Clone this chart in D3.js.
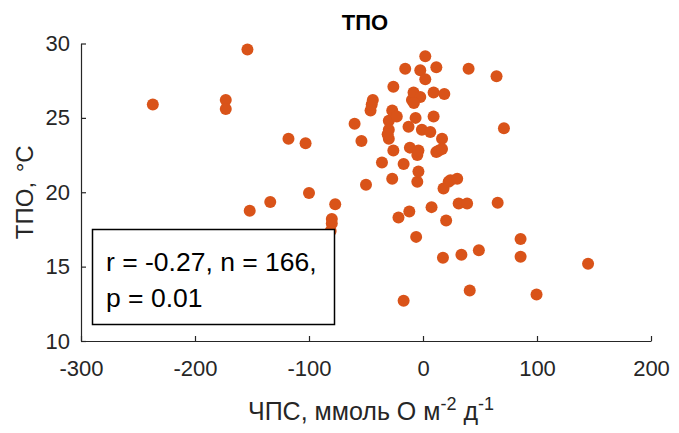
<!DOCTYPE html>
<html>
<head>
<meta charset="utf-8">
<script src="https://cdn.jsdelivr.net/npm/d3@7/dist/d3.min.js"></script>
<style>
  html, body { margin: 0; padding: 0; background: #fff; }
  svg { display: block; }
  text { font-family: "Liberation Sans", Arial, Helvetica, sans-serif; }
</style>
</head>
<body>
<svg id="chart" width="679" height="433"></svg>
<script>
// Net community production (x) vs. sea surface temperature (y)
const ncp = [
  -237, -173, -173, -154, -118, -103, -100, -134, -152, -77, -80, -80, -81,
  -60, -54, -50, -46, -44, -45, -36, -30, -30, -30, -31, -27, -26, -26, -27,
  -23, -21.5, -17, -17, -15.6, -12.7, -11.5, -12, -9.7, -8.3, -6.5, -6, -5, -5,
  -4, -4, -2.4, -2.4, -1, 2, 2, -8, 6.4, 7.5, 9.3, 9.3, 11.7, 11.7, 14, 16.7,
  16.7, 17.5, 18, 18.7, 20.3, 22.5, 24, 30, 31.3, 33.7, 38.7, 40, 41, 49,
  64.5, 65.5, 71, 85.6, 85.6, 99.6, 144.8
];
const sst = [
  25.9, 26.2, 25.6, 29.6, 23.6, 23.3, 19.95, 19.35, 18.75, 19.2, 18.2, 17.9, 17.4,
  24.6, 23.45, 20.5, 25.5, 26.2, 25.9, 22.0, 24.8, 24.2, 23.6, 23.9, 25.5, 27.1, 22.8, 20.9,
  25.1, 18.3, 21.9, 12.7, 28.3, 24.4, 23.0, 18.7, 26.2, 26.7, 25.0, 17.0, 22.5, 20.7,
  21.4, 22.8, 28.2, 26.4, 24.2, 29.15, 27.6, 26.0, 24.05, 19.0, 26.7, 25.1, 28.4, 22.7, 22.8, 23.6,
  22.9, 15.6, 20.25, 26.6, 18.1, 20.7, 20.8, 20.9, 19.25, 15.8, 19.25, 28.3, 13.4, 16.1,
  27.8, 19.3, 24.3, 16.85, 15.66, 13.13, 15.2
];
const xTicks = [-300, -200, -100, 0, 100, 200];
const yTicks = [10, 15, 20, 25, 30];
const statLines = ["r = -0.27, n = 166,", "p = 0.01"];

const svg = d3.select("#chart");
const axisColor = "#262626";

const x = d3.scaleLinear().domain([-300, 200]).range([81, 651]);
const y = d3.scaleLinear().domain([10, 30]).range([341, 43.5]);

// plain hyphen-minus for negative tick labels
const plain = d => String(d);

// x axis (inward ticks, no box)
const gx = svg.append("g").attr("transform", `translate(0,${y(10)})`)
  .call(d3.axisBottom(x).tickValues(xTicks).tickFormat(plain)
    .tickSizeInner(-5).tickSizeOuter(0).tickPadding(19));
// y axis
const gy = svg.append("g").attr("transform", `translate(${x(-300)},0)`)
  .call(d3.axisLeft(y).tickValues(yTicks).tickFormat(plain)
    .tickSizeInner(-5).tickSizeOuter(0).tickPadding(11));

[gx, gy].forEach(g => {
  g.select(".domain").attr("stroke", axisColor).attr("stroke-width", 1.2);
  g.selectAll(".tick line").attr("stroke", axisColor).attr("stroke-width", 1.2);
  g.selectAll(".tick text").attr("fill", axisColor)
    .style("font-size", "22px").style("font-family", "'Liberation Sans', Arial, sans-serif");
});
gx.selectAll(".tick text").attr("dy", "0.71em");

// points
svg.append("g").selectAll("circle")
  .data(ncp.map((v, i) => [v, sst[i]]))
  .join("circle")
  .attr("cx", d => x(d[0]))
  .attr("cy", d => y(d[1]))
  .attr("r", 6)
  .attr("fill", "#D95319");

// title
svg.append("text")
  .attr("x", 365).attr("y", 30)
  .attr("text-anchor", "middle")
  .attr("font-weight", "bold")
  .style("font-size", "22px")
  .attr("fill", "#000")
  .text("ТПО");

// x label with superscripts
const xl = svg.append("text")
  .attr("x", 371).attr("y", 420)
  .attr("text-anchor", "middle")
  .style("font-size", "25px")
  .attr("fill", axisColor);
xl.append("tspan").text("ЧПС, ммоль О м");
xl.append("tspan").attr("dy", -10).style("font-size", "18px").text("-2");
xl.append("tspan").attr("dy", 10).text(" д");
xl.append("tspan").attr("dy", -10).style("font-size", "18px").text("-1");

// y label
const yl = svg.append("text")
  .attr("transform", `translate(33,${(y(10) + y(30)) / 2}) rotate(-90)`)
  .attr("text-anchor", "middle")
  .style("font-size", "24px")
  .attr("fill", axisColor);
yl.append("tspan").text("ТПО, ");
yl.append("tspan").attr("dx", 3).text("°C");

// statistics box
svg.append("rect")
  .attr("x", 92.5).attr("y", 229.5)
  .attr("width", 242).attr("height", 95)
  .attr("fill", "#fff")
  .attr("stroke", "#000")
  .attr("stroke-width", 1.5);
svg.append("g").selectAll("text")
  .data(statLines)
  .join("text")
  .attr("x", 106)
  .attr("y", (d, i) => 271 + i * 36)
  .style("font-size", "26.5px")
  .attr("fill", "#000")
  .text(d => d);
</script>
</body>
</html>
